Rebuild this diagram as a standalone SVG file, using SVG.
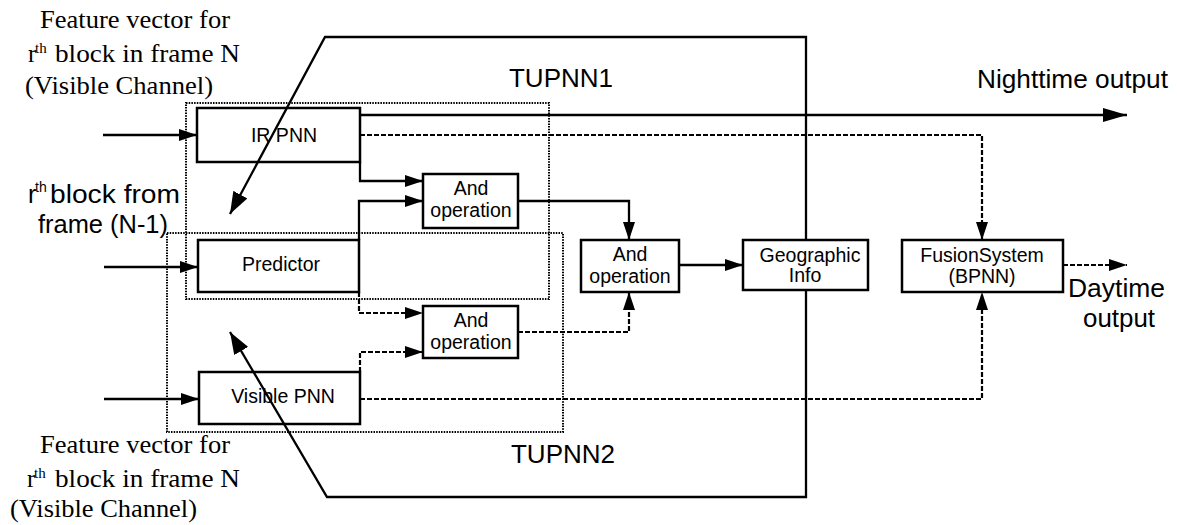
<svg xmlns="http://www.w3.org/2000/svg" width="1177" height="525" viewBox="0 0 1177 525">
<defs>
<style>
.box{fill:#fff;stroke:#000;stroke-width:2.5}
.lbl{font-family:"Liberation Sans",Arial,sans-serif;font-size:19.5px;fill:#000;text-anchor:middle}
.big{font-family:"Liberation Sans",Arial,sans-serif;font-size:26px;fill:#000}
.serif{font-family:"Liberation Serif","Times New Roman",serif;font-size:25px;fill:#000}
.sup{font-size:15px}
.solid{fill:none;stroke:#000;stroke-width:2.3}
.dash{fill:none;stroke:#000;stroke-width:2.2;stroke-dasharray:5 2}
.dot{fill:none;stroke:#000;stroke-width:2;stroke-dasharray:1.5 1.2}
</style>
<marker id="arr" viewBox="0 0 18 12" markerWidth="18" markerHeight="12" refX="18" refY="6" orient="auto" markerUnits="userSpaceOnUse"><path d="M0,0 L18,6 L0,12 Z" fill="#000"/></marker>
<marker id="arrL" viewBox="0 0 24 14" markerWidth="24" markerHeight="14" refX="24" refY="7" orient="auto" markerUnits="userSpaceOnUse"><path d="M0,0 L24,7 L0,14 Z" fill="#000"/></marker>
<marker id="arrB" viewBox="0 0 22 16" markerWidth="22" markerHeight="16" refX="22" refY="8" orient="auto" markerUnits="userSpaceOnUse"><path d="M0,0 L22,8 L0,16 Z" fill="#000"/></marker>
</defs>
<rect width="1177" height="525" fill="#fff"/>

<g id="tupnn-groups">
<rect id="tupnn1-box" class="dot" x="186" y="103" width="363" height="196"/>
<rect id="tupnn2-box" class="dot" x="167" y="233" width="396" height="199"/>
<text class="big" x="561" y="87" text-anchor="middle">TUPNN1</text>
<text class="big" x="563" y="463" text-anchor="middle">TUPNN2</text>
</g>

<g id="labels">
<text class="serif" x="40" y="28" textLength="190" lengthAdjust="spacingAndGlyphs">Feature vector for</text>
<text class="serif" x="28" y="62">r</text><text class="serif sup" x="35" y="53">th</text>
<text class="serif" x="55" y="62" textLength="185" lengthAdjust="spacingAndGlyphs">block in frame N</text>
<text class="serif" x="25" y="94" textLength="188" lengthAdjust="spacingAndGlyphs">(Visible Channel)</text>

<text class="big" x="28" y="203" style="font-size:25px">r</text><text class="big" x="35" y="192" style="font-size:14px">th</text>
<text class="big" x="50" y="203" style="font-size:25px" textLength="130" lengthAdjust="spacingAndGlyphs">block from</text>
<text class="big" x="38" y="233" style="font-size:25px" textLength="130" lengthAdjust="spacingAndGlyphs">frame (N-1)</text>

<text class="serif" x="40" y="453" textLength="190" lengthAdjust="spacingAndGlyphs">Feature vector for</text>
<text class="serif" x="27" y="487">r</text><text class="serif sup" x="34" y="478">th</text>
<text class="serif" x="55" y="487" textLength="185" lengthAdjust="spacingAndGlyphs">block in frame N</text>
<text class="serif" x="10" y="517" textLength="187" lengthAdjust="spacingAndGlyphs">(Visible Channel)</text>

<text class="big" x="977" y="88" textLength="191" lengthAdjust="spacingAndGlyphs">Nighttime output</text>
<text class="big" x="1068" y="297" textLength="97" lengthAdjust="spacingAndGlyphs">Daytime</text>
<text class="big" x="1083" y="327" textLength="72" lengthAdjust="spacingAndGlyphs">output</text>
</g>

<g id="ir-pnn"><rect class="box" x="197" y="108" width="163" height="54"/><text class="lbl" x="284" y="142">IR PNN</text></g>
<g id="predictor"><rect class="box" x="198" y="240" width="161" height="52"/><text class="lbl" x="281" y="271">Predictor</text></g>
<g id="visible-pnn"><rect class="box" x="199" y="372" width="161" height="52"/><text class="lbl" x="283" y="403">Visible PNN</text></g>
<g id="and1"><rect class="box" x="423" y="174" width="95" height="54"/><text class="lbl" x="471" y="195">And</text><text class="lbl" x="471" y="217">operation</text></g>
<g id="and2"><rect class="box" x="423" y="306" width="95" height="52"/><text class="lbl" x="471" y="327">And</text><text class="lbl" x="471" y="349">operation</text></g>
<g id="and3"><rect class="box" x="581" y="240" width="98" height="52"/><text class="lbl" x="630" y="261">And</text><text class="lbl" x="630" y="283">operation</text></g>
<g id="geographic"><rect class="box" x="743" y="240" width="125" height="50"/><text class="lbl" x="810" y="262">Geographic</text><text class="lbl" x="805" y="282">Info</text></g>
<g id="fusion"><rect class="box" x="902" y="240" width="161" height="52"/><text class="lbl" x="982" y="262">FusionSystem</text><text class="lbl" x="982" y="283">(BPNN)</text></g>

<g id="connectors">
<path class="solid" d="M103,135 H197" marker-end="url(#arr)"/>
<path class="solid" d="M104,267 H198" marker-end="url(#arr)"/>
<path class="solid" d="M104,399 H199" marker-end="url(#arr)"/>
<path class="solid" d="M360,162 V181 H423" marker-end="url(#arr)"/>
<path class="solid" d="M359,240 V201 H423" marker-end="url(#arr)"/>
<path class="solid" d="M518,201 H629 V240" marker-end="url(#arr)"/>
<path class="solid" d="M679,265 H743" marker-end="url(#arr)"/>
<path class="solid" d="M360,115 H1127" marker-end="url(#arrL)"/>
<path class="dash" d="M359,292 V313 H423" marker-end="url(#arr)"/>
<path class="dash" d="M360,372 V352 H423" marker-end="url(#arr)"/>
<path class="dash" d="M518,332 H629 V292" marker-end="url(#arr)"/>
<path class="dash" d="M360,135 H982 V240" marker-end="url(#arr)"/>
<path class="dash" d="M360,399 H982 V292" marker-end="url(#arr)"/>
<path class="dash" d="M1063,265 H1127" marker-end="url(#arr)"/>
<path class="solid" d="M806,240 V37 H325 L230,214" marker-end="url(#arrB)"/>
<path class="solid" d="M806,290 V497 H327 L230,332" marker-end="url(#arrB)"/>
</g>
</svg>
